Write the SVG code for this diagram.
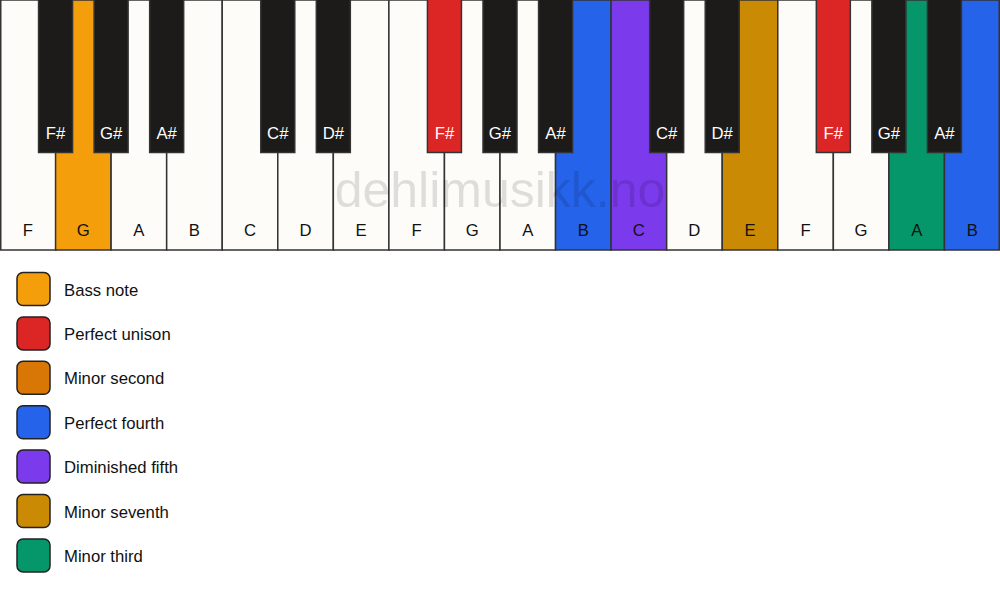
<svg xmlns="http://www.w3.org/2000/svg" width="1000" height="594" viewBox="0 0 1000 594">
<style>
.w{fill:#FDFCF8;stroke:#333;stroke-width:1.5}
.b{fill:#1C1B19;stroke:#333;stroke-width:1.5}
.wl{font-family:"Liberation Sans",Arial,sans-serif;font-size:16.7px;fill:#111;text-anchor:middle}
.bl{font-family:"Liberation Sans",Arial,sans-serif;font-size:16.7px;fill:#fff;text-anchor:middle}
.sw{stroke:#222;stroke-width:1.5}
.lt{font-family:"Liberation Sans",Arial,sans-serif;font-size:16.7px;fill:#111}
.wm{font-family:"Liberation Sans",Arial,sans-serif;font-size:50px;fill:#000;fill-opacity:0.12;text-anchor:middle}
</style>
<rect width="1000" height="594" fill="#fff"/>
<g id="white-keys">
<g id="wk1"><rect class="w" x="0.75" y="0" width="55.56" height="250"/><text class="wl" x="27.8" y="236">F</text></g>
<g id="wk2"><rect class="w" x="55.56" y="0" width="55.56" height="250" style="fill:#F59E0B"/><text class="wl" x="83.3" y="236">G</text></g>
<g id="wk3"><rect class="w" x="111.11" y="0" width="55.56" height="250"/><text class="wl" x="138.9" y="236">A</text></g>
<g id="wk4"><rect class="w" x="166.67" y="0" width="55.56" height="250"/><text class="wl" x="194.4" y="236">B</text></g>
<g id="wk5"><rect class="w" x="222.22" y="0" width="55.56" height="250"/><text class="wl" x="250" y="236">C</text></g>
<g id="wk6"><rect class="w" x="277.78" y="0" width="55.56" height="250"/><text class="wl" x="305.6" y="236">D</text></g>
<g id="wk7"><rect class="w" x="333.33" y="0" width="55.56" height="250"/><text class="wl" x="361.1" y="236">E</text></g>
<g id="wk8"><rect class="w" x="388.89" y="0" width="55.56" height="250"/><text class="wl" x="416.7" y="236">F</text></g>
<g id="wk9"><rect class="w" x="444.44" y="0" width="55.56" height="250"/><text class="wl" x="472.2" y="236">G</text></g>
<g id="wk10"><rect class="w" x="500" y="0" width="55.56" height="250"/><text class="wl" x="527.8" y="236">A</text></g>
<g id="wk11"><rect class="w" x="555.56" y="0" width="55.56" height="250" style="fill:#2563EB"/><text class="wl" x="583.3" y="236">B</text></g>
<g id="wk12"><rect class="w" x="611.11" y="0" width="55.56" height="250" style="fill:#7C3AED"/><text class="wl" x="638.9" y="236">C</text></g>
<g id="wk13"><rect class="w" x="666.67" y="0" width="55.56" height="250"/><text class="wl" x="694.4" y="236">D</text></g>
<g id="wk14"><rect class="w" x="722.22" y="0" width="55.56" height="250" style="fill:#CA8A04"/><text class="wl" x="750" y="236">E</text></g>
<g id="wk15"><rect class="w" x="777.78" y="0" width="55.56" height="250"/><text class="wl" x="805.6" y="236">F</text></g>
<g id="wk16"><rect class="w" x="833.33" y="0" width="55.56" height="250"/><text class="wl" x="861.1" y="236">G</text></g>
<g id="wk17"><rect class="w" x="888.89" y="0" width="55.56" height="250" style="fill:#059669"/><text class="wl" x="916.7" y="236">A</text></g>
<g id="wk18"><rect class="w" x="944.44" y="0" width="54.8" height="250" style="fill:#2563EB"/><text class="wl" x="972.2" y="236">B</text></g>
</g>
<text class="wm" x="500" y="207">dehlimusikk.no</text>
<g id="black-keys">
<g id="bk1"><rect class="b" x="38.56" y="-1" width="34" height="153.5"/><text class="bl" x="55.56" y="139">F#</text></g>
<g id="bk2"><rect class="b" x="94.11" y="-1" width="34" height="153.5"/><text class="bl" x="111.11" y="139">G#</text></g>
<g id="bk3"><rect class="b" x="149.67" y="-1" width="34" height="153.5"/><text class="bl" x="166.67" y="139">A#</text></g>
<g id="bk4"><rect class="b" x="260.78" y="-1" width="34" height="153.5"/><text class="bl" x="277.78" y="139">C#</text></g>
<g id="bk5"><rect class="b" x="316.33" y="-1" width="34" height="153.5"/><text class="bl" x="333.33" y="139">D#</text></g>
<g id="bk6"><rect class="b" x="427.44" y="-1" width="34" height="153.5" style="fill:#DC2626"/><text class="bl" x="444.44" y="139">F#</text></g>
<g id="bk7"><rect class="b" x="483" y="-1" width="34" height="153.5"/><text class="bl" x="500" y="139">G#</text></g>
<g id="bk8"><rect class="b" x="538.56" y="-1" width="34" height="153.5"/><text class="bl" x="555.56" y="139">A#</text></g>
<g id="bk9"><rect class="b" x="649.67" y="-1" width="34" height="153.5"/><text class="bl" x="666.67" y="139">C#</text></g>
<g id="bk10"><rect class="b" x="705.22" y="-1" width="34" height="153.5"/><text class="bl" x="722.22" y="139">D#</text></g>
<g id="bk11"><rect class="b" x="816.33" y="-1" width="34" height="153.5" style="fill:#DC2626"/><text class="bl" x="833.33" y="139">F#</text></g>
<g id="bk12"><rect class="b" x="871.89" y="-1" width="34" height="153.5"/><text class="bl" x="888.89" y="139">G#</text></g>
<g id="bk13"><rect class="b" x="927.44" y="-1" width="34" height="153.5"/><text class="bl" x="944.44" y="139">A#</text></g>
</g>
<g id="legend">
<g id="lg1"><rect class="sw" x="17" y="272.5" width="33" height="33" rx="6" fill="#F59E0B"/><text class="lt" x="64" y="295.5">Bass note</text></g>
<g id="lg2"><rect class="sw" x="17" y="316.9" width="33" height="33" rx="6" fill="#DC2626"/><text class="lt" x="64" y="339.9">Perfect unison</text></g>
<g id="lg3"><rect class="sw" x="17" y="361.3" width="33" height="33" rx="6" fill="#D97706"/><text class="lt" x="64" y="384.3">Minor second</text></g>
<g id="lg4"><rect class="sw" x="17" y="405.7" width="33" height="33" rx="6" fill="#2563EB"/><text class="lt" x="64" y="428.7">Perfect fourth</text></g>
<g id="lg5"><rect class="sw" x="17" y="450.1" width="33" height="33" rx="6" fill="#7C3AED"/><text class="lt" x="64" y="473.1">Diminished fifth</text></g>
<g id="lg6"><rect class="sw" x="17" y="494.5" width="33" height="33" rx="6" fill="#CA8A04"/><text class="lt" x="64" y="517.5">Minor seventh</text></g>
<g id="lg7"><rect class="sw" x="17" y="538.9" width="33" height="33" rx="6" fill="#059669"/><text class="lt" x="64" y="561.9">Minor third</text></g>
</g>
</svg>
